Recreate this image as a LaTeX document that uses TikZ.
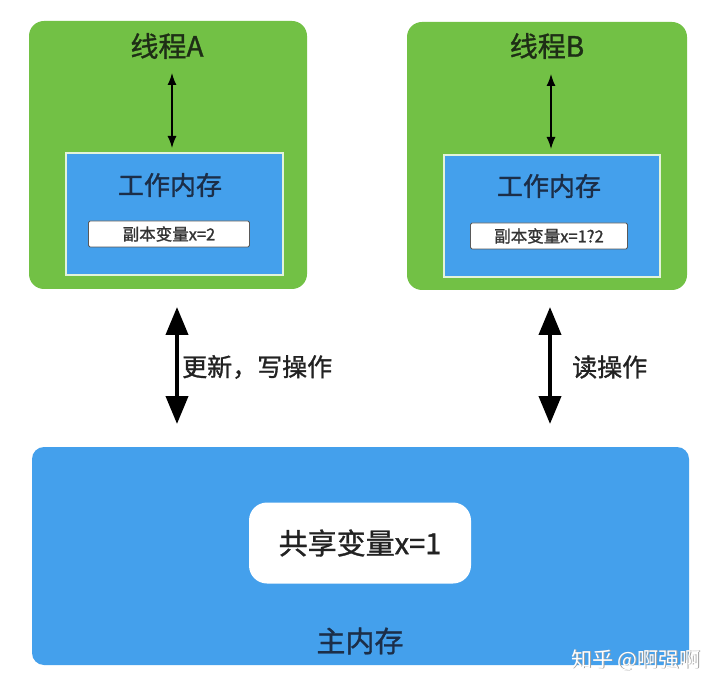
\documentclass[tikz,border=0pt]{standalone}
\usepackage{fontspec}
\setmainfont{Noto Sans CJK SC}
\newfontfamily\medfont{Noto Sans CJK SC}[FakeBold=1.2]
\newfontfamily\wmfont{Noto Sans CJK SC}
\usetikzlibrary{arrows.meta,positioning}
\definecolor{thgreen}{HTML}{72C145}
\definecolor{memblue}{HTML}{44A0EC}
\definecolor{titlec}{HTML}{1E2E16}
\definecolor{wmc}{HTML}{1C2E48}
\definecolor{labc}{HTML}{222222}
\tikzset{
  thread/.style={fill=thgreen, draw=none, rounded corners=15pt},
  work/.style={fill=memblue, draw=white!80!thgreen, line width=1.5pt},
  copybox/.style={fill=white, draw=gray!70!black, line width=0.8pt, rounded corners=1.5pt},
  smallarrow/.style={{Latex[length=12pt,width=9pt]}-{Latex[length=12pt,width=9pt]}, line width=1.3pt, black},
  bigarrow/.style={{Triangle[length=28pt,width=22pt]}-{Triangle[length=28pt,width=22pt]}, line width=4pt, black},
  title/.style={font=\medfont\fontsize{28}{32}\selectfont, text=titlec, inner sep=0pt},
  wmtext/.style={font=\medfont\fontsize{26}{30}\selectfont, text=wmc, inner sep=0pt},
  cptext/.style={font=\medfont\fontsize{16.5}{19}\selectfont, text=black!80, inner sep=0pt},
  lab/.style={font=\medfont\fontsize{25}{29}\selectfont, text=labc, inner sep=0pt},
}
\begin{document}
\begin{tikzpicture}[x=1pt,y=-1pt]
\useasboundingbox (0,0) rectangle (720,692);
\fill[white] (0,0) rectangle (720,692);
% thread A
\path[thread] (29,21) rectangle (307,289);
\draw[work] (66,153) rectangle (283,275);
\node[copybox, minimum width=161pt, minimum height=26pt] (cpA) at (169,234) {};
\node[cptext] at (cpA.center) {副本变量x=2};
\node[title] (tA) at (167,46) {线程A};
\node[wmtext] (wA) at (170,185) {工作内存};
\coordinate (aTop) at (172,73);
\coordinate (aBot) at (172,148);
\draw[smallarrow] (aTop) -- (aBot);
% thread B
\path[thread] (407,22) rectangle (687,290);
\draw[work] (444,155) rectangle (660,277);
\node[copybox, minimum width=157pt, minimum height=26pt] (cpB) at (549,236) {};
\node[cptext] at (cpB.center) {副本变量x=1?2};
\node[title] (tB) at (547,46) {线程B};
\node[wmtext] (wB) at (549,186) {工作内存};
\coordinate (bTop) at (551,74);
\coordinate (bBot) at (551,149);
\draw[smallarrow] (bTop) -- (bBot);
% main memory
\path[fill=memblue, rounded corners=12pt] (32,447) rectangle (689,665);
\node[fill=white, rounded corners=18pt, minimum width=222pt, minimum height=81pt, inner sep=0pt] (sh) at (360,543) {};
\node[font=\medfont\fontsize{29}{33}\selectfont, text=labc, inner sep=0pt] at (sh.center) {共享变量x=1};
\node[font=\medfont\fontsize{29}{33}\selectfont, text=wmc, inner sep=0pt] (mm) at (360,641) {主内存};
% big arrows
\coordinate (L1) at (177,307);
\coordinate (L2) at (177,424);
\coordinate (R1) at (550,307);
\coordinate (R2) at (550,424);
\draw[bigarrow] (L1) -- (L2);
\draw[bigarrow] (R1) -- (R2);
\node[lab, anchor=west] (lw) at (182,367) {更新，写操作};
\node[lab, anchor=west] (lr) at (572,367) {读操作};
% watermark
\node[font=\wmfont\fontsize{21}{24}\selectfont, text=gray!75, inner sep=0pt, anchor=east] (wms) at (701.8,660.8) {知乎 @啊强啊};
\node[font=\wmfont\fontsize{21}{24}\selectfont, text=white, inner sep=0pt, anchor=east] (wm) at (701,660) {知乎 @啊强啊};
\end{tikzpicture}
\end{document}
